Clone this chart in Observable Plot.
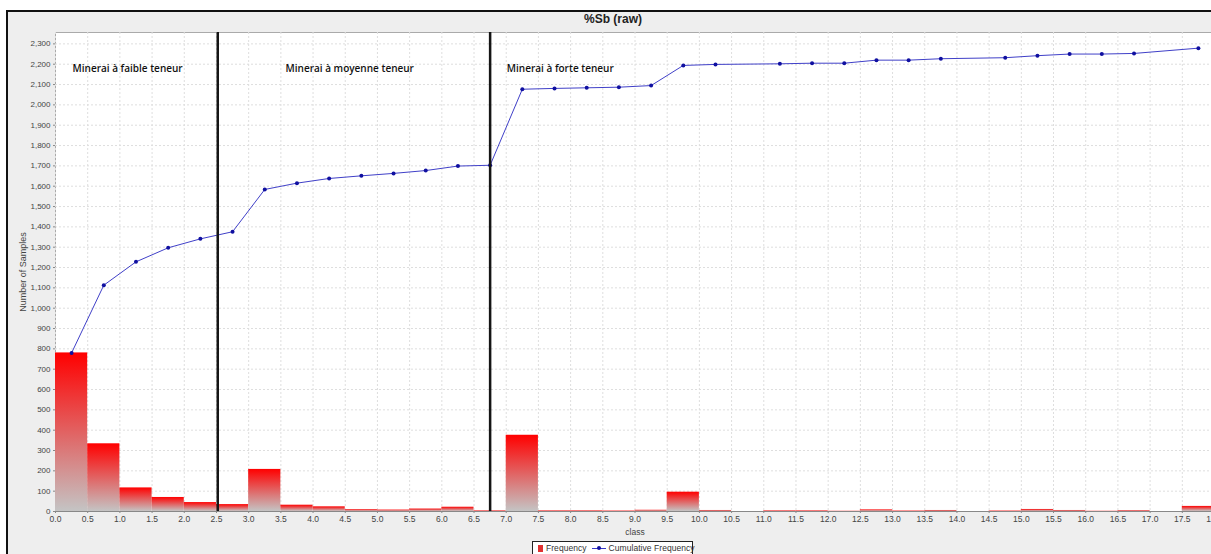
<!DOCTYPE html>
<html>
<head>
<meta charset="utf-8">
<script src="https://cdn.jsdelivr.net/npm/d3@7"></script>
<script src="https://cdn.jsdelivr.net/npm/@observablehq/plot@0.6"></script>
<style>
  html, body { margin: 0; padding: 0; overflow: hidden; background: #ffffff; width: 1211px; height: 554px; }
  #frame { position: absolute; left: 6px; top: 10px; width: 1240px; height: 570px; background: #eeeeee; border: 2px solid #111; box-sizing: border-box; }
  #title { position: absolute; left: 0; top: 12px; width: 1226px; text-align: center; font: bold 12px "Liberation Sans", Arial, sans-serif; color: #222; }
  #chart { position: absolute; left: 0; top: 0; width: 1240px; }
  #chart svg { max-width: none !important; }
  #legend { position: absolute; left: 532px; top: 541px; width: 161px; height: 20px; box-sizing: border-box; border: 1px solid #222; background: #fff; font: 8.5px "Liberation Sans", Arial, sans-serif; color: #333; padding: 1px 0 0 5px; white-space: nowrap; letter-spacing: 0.05px; }
  #legend .sq { display: inline-block; width: 5px; height: 7px; background: #e03030; margin-right: 3px; vertical-align: -1px; }
  #legend .ln { display: inline-block; position: relative; width: 14px; height: 7px; margin: 0 3px 0 5px; vertical-align: -1px; }
  #legend .ln::before { content: ""; position: absolute; left: 0; right: 0; top: 3px; height: 1px; background: #3838c8; }
  #legend .ln::after { content: ""; position: absolute; left: 5px; top: 1px; width: 4px; height: 4px; border-radius: 50%; background: #1010a0; }
</style>
</head>
<body>
<div id="frame"></div>
<div id="title">%Sb (raw)</div>
<div id="chart"></div>
<div id="legend"><span class="sq"></span>Frequency<span class="ln"></span>Cumulative Frequency</div>
<script>
// ---- data ----
const binStart = [0, 0.5, 1, 1.5, 2, 2.5, 3, 3.5, 4, 4.5, 5, 5.5, 6, 6.5, 7, 7.5, 8, 8.5, 9, 9.5,
                  10, 10.5, 11, 11.5, 12, 12.5, 13, 13.5, 14, 14.5, 15, 15.5, 16, 16.5, 17, 17.5];
const frequency = [780, 333, 116, 69, 44, 34, 207, 31, 23, 9, 7, 12, 21, 3, 375, 3, 3, 2, 6, 95,
                   5, 0, 3, 3, 1, 8, 2, 5, 0, 2, 10, 5, 1, 4, 0, 25];
const binWidth = 0.5;

const cumClass = [0.25, 0.75, 1.25, 1.75, 2.25, 2.75, 3.25, 3.75, 4.25, 4.75, 5.25, 5.75, 6.25, 6.75,
                  7.25, 7.75, 8.25, 8.75, 9.25, 9.75, 10.25, 11.25, 11.75, 12.25, 12.75, 13.25, 13.75,
                  14.75, 15.25, 15.75, 16.25, 16.75, 17.75];
const cumFrequency = [780, 1113, 1228, 1297, 1341, 1376, 1584, 1615, 1638, 1651, 1663, 1677, 1699, 1703,
                      2077, 2081, 2084, 2087, 2095, 2194, 2199, 2202, 2205, 2205, 2220, 2220, 2227,
                      2232, 2242, 2250, 2250, 2253, 2279];

const zoneLabels = ["Minerai à faible teneur", "Minerai à moyenne teneur", "Minerai à forte teneur"];
const zoneLabelX = [1.12, 4.57, 7.84];
const zoneLabelY = 2178;
const zoneBoundaries = [2.52, 6.75];

const xTicks = [0, 0.5, 1, 1.5, 2, 2.5, 3, 3.5, 4, 4.5, 5, 5.5, 6, 6.5, 7, 7.5, 8, 8.5, 9, 9.5, 10,
                10.5, 11, 11.5, 12, 12.5, 13, 13.5, 14, 14.5, 15, 15.5, 16, 16.5, 17, 17.5, 18];
const yTicks = [0, 100, 200, 300, 400, 500, 600, 700, 800, 900, 1000, 1100, 1200, 1300, 1400, 1500,
                1600, 1700, 1800, 1900, 2000, 2100, 2200, 2300];

// ---- tables ----
const bars = binStart.map((s, i) => ({x1: s, x2: s + binWidth, y: frequency[i]}));
const cum = cumClass.map((c, i) => ({x: c, y: cumFrequency[i]}));
const zones = zoneLabels.map((t, i) => ({text: t, x: zoneLabelX[i], y: zoneLabelY}));

const svg = Plot.plot({
  width: 1240,
  height: 540,
  marginLeft: 55,
  marginTop: 32,
  marginBottom: 29,
  marginRight: 26,
  style: {background: "transparent", fontFamily: "'Liberation Sans', Arial, sans-serif", fontSize: "8px", color: "#444", maxWidth: "none"},
  x: {domain: [0, 18]},
  y: {domain: [0, 2356]},
  marks: [
    Plot.frame({fill: "white", stroke: "#aaa"}),
    Plot.gridX(xTicks, {stroke: "#dedede", strokeOpacity: 1, strokeDasharray: "2,2"}),
    Plot.gridY(yTicks, {stroke: "#dedede", strokeOpacity: 1, strokeDasharray: "2,2"}),
    Plot.rectY(bars, {x1: "x1", x2: "x2", y: "y", fill: "url(#barGrad)", inset: 0}),
    Plot.ruleY([0], {stroke: "#888"}),
    Plot.axisX({ticks: xTicks, tickFormat: d3.format(".1f"), tickSize: 2, tickPadding: 2, stroke: "#888",
                label: "class", labelAnchor: "center", labelArrow: "none", labelOffset: 23, fontSize: 8.5}),
    Plot.axisY({ticks: yTicks, tickFormat: d3.format(","), tickSize: 2, tickPadding: 3, stroke: "#888",
                label: null, fontSize: 8}),
    Plot.axisY({ticks: [], label: "Number of Samples", labelAnchor: "center", labelArrow: "none",
                labelOffset: 36, fontSize: 9}),
    Plot.line(cum, {x: "x", y: "y", stroke: "#4040c8", strokeWidth: 1}),
    Plot.dot(cum, {x: "x", y: "y", r: 2, fill: "#1010a0", stroke: "none"}),
    Plot.ruleX(zoneBoundaries, {stroke: "#151515", strokeWidth: 2.5}),
    Plot.text(zones, {x: "x", y: "y", text: "text", fontSize: 10, fontWeight: 600, fill: "#111",
                      fontFamily: "'Open Sans', sans-serif"})
  ]
});

const defs = d3.select(svg).insert("defs", ":first-child");
const g = defs.append("linearGradient").attr("id", "barGrad").attr("x1", 0).attr("y1", 0).attr("x2", 0).attr("y2", 1);
g.append("stop").attr("offset", "0%").attr("stop-color", "#ff0000");
g.append("stop").attr("offset", "100%").attr("stop-color", "#c4c4c4");

document.getElementById("chart").appendChild(svg);
</script>
</body>
</html>
